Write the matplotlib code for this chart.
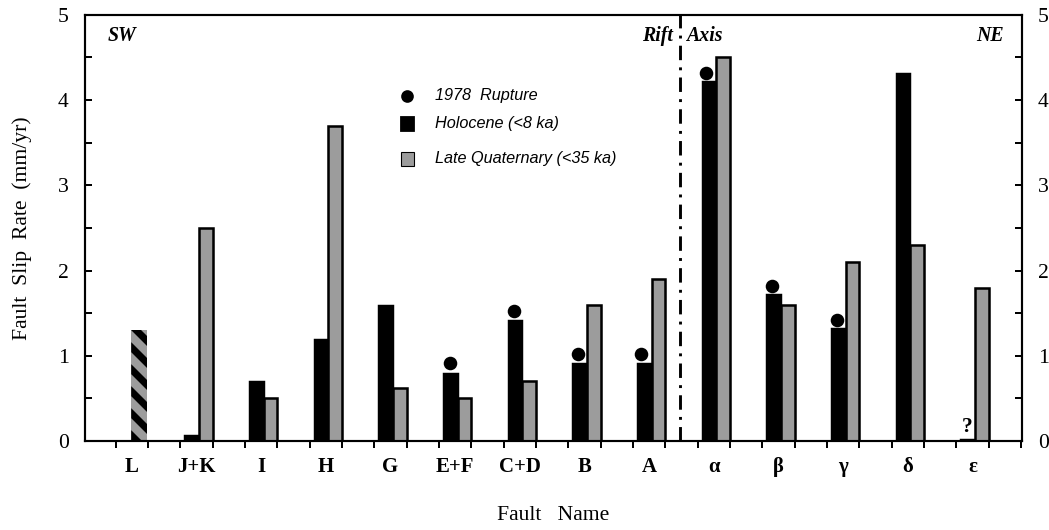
import matplotlib
matplotlib.use("Agg")
import matplotlib.pyplot as plt
from matplotlib.ticker import MultipleLocator, FixedLocator

categories = ["L", "J+K", "I", "H", "G", "E+F", "C+D", "B", "A", "α", "β", "γ", "δ", "ε"]
holocene = [None, 0.07, 0.7, 1.2, 1.6, 0.8, 1.42, 0.92, 0.92, 4.22, 1.72, 1.32, 4.32, 0.02]
late_quat = [None, 2.5, 0.5, 3.7, 0.62, 0.5, 0.7, 1.6, 1.9, 4.5, 1.6, 2.1, 2.3, 1.8]
l_fault = 1.3
rupture_1978 = [None, None, None, None, None, 0.92, 1.53, 1.02, 1.02, 4.32, 1.82, 1.42, None, None]
rupture_dx = [0, 0, 0, 0, 0, -0.1, -0.12, -0.13, -0.15, -0.14, -0.12, -0.12, 0, 0]

DPI = 130
fig = plt.figure(figsize=(1049 / DPI, 530 / DPI), dpi=DPI)
ax = fig.add_axes([0.081, 0.168, 0.893, 0.804])
XLIM = (-0.765, 13.72)
YLIM = (0, 5)
ax.set_xlim(*XLIM)
ax.set_ylim(*YLIM)

x = list(range(len(categories)))
wb, wg = 0.23, 0.21
gray = "#9c9c9c"

hb_x = [i for i in x if holocene[i] is not None]
ax.bar([i - wb for i in hb_x], [holocene[i] for i in hb_x], width=wb, align="edge",
       color="black", edgecolor="black", linewidth=0.8, zorder=2)
lq_x = [i for i in x if late_quat[i] is not None]
ax.bar(lq_x, [late_quat[i] for i in lq_x], width=wg, align="edge",
       color=gray, edgecolor="black", linewidth=1.4, zorder=2)

# L fault: bar with diagonal black stripes
lbar = ax.bar([-0.05], [l_fault], width=0.25, align="edge", facecolor=gray,
              edgecolor="none", linewidth=0, zorder=2)[0]
bbox = ax.get_position()
px_x = (XLIM[1] - XLIM[0]) / (bbox.width * 1049)   # data units per pixel
px_y = (YLIM[1] - YLIM[0]) / (bbox.height * 530)
period, thick = 22, 10  # pixels
bx0 = lbar.get_x()
bx1 = bx0 + lbar.get_width()
wpx = lbar.get_width() / px_x
y_start = l_fault + 10 * px_y
k = 0
while y_start - k * period * px_y > -2 * wpx * px_y:
    yt = y_start - k * period * px_y
    poly = plt.Polygon([(bx0, yt), (bx1, yt - wpx * px_y),
                        (bx1, yt - (wpx + thick) * px_y), (bx0, yt - thick * px_y)],
                       closed=True, facecolor="black", edgecolor="none", zorder=2.5)
    ax.add_patch(poly)
    poly.set_clip_path(lbar)
    k += 1

# 1978 rupture dots
for i in x:
    if rupture_1978[i] is not None:
        ax.plot(i - wb / 2 + rupture_dx[i] + 0.1, rupture_1978[i], "o", color="black",
                markersize=6.5, zorder=3, clip_on=False)

ax.text(12.88, 0.05, "?", fontsize=12, fontweight="bold", family="Liberation Serif",
        ha="center", va="bottom")

# Rift axis
ax.axvline(8.43, color="black", linewidth=1.6, linestyle=(0, (5, 2.5, 1, 2.5)), zorder=1)
tkw = dict(fontsize=11, fontweight="bold", fontstyle="italic",
           family="Liberation Serif", va="center")
ax.text(8.33, 4.75, "Rift", ha="right", **tkw)
ax.text(8.53, 4.75, "Axis", ha="left", **tkw)
ax.text(-0.42, 4.75, "SW", ha="left", **tkw)
ax.text(13.45, 4.75, "NE", ha="right", **tkw)

# Legend (manual)
lx = 4.22
lkw = dict(fontsize=9, fontstyle="italic", family="Liberation Sans", ha="left", va="center")
ax.plot(lx, 4.05, "o", color="black", markersize=6)
ax.text(lx + 0.42, 4.05, "1978  Rupture", **lkw)
ax.add_patch(plt.Rectangle((lx - 0.1, 3.64), 0.2, 0.16, color="black"))
ax.text(lx + 0.42, 3.72, "Holocene (<8 ka)", **lkw)
ax.add_patch(plt.Rectangle((lx - 0.1, 3.23), 0.2, 0.16, facecolor=gray,
                           edgecolor="black", linewidth=0.6))
ax.text(lx + 0.42, 3.31, "Late Quaternary (<35 ka)", **lkw)

# Axes styling
for s in ax.spines.values():
    s.set_linewidth(1.2)
ax.yaxis.set_major_locator(MultipleLocator(1))
ax.yaxis.set_minor_locator(MultipleLocator(0.5))
ax.tick_params(axis="y", which="both", direction="in", left=True, right=True,
               labelleft=True, labelright=True, length=4, width=1.1)
ax.tick_params(axis="y", which="major", labelsize=12, pad=9)
ticks_x = [-0.29 + 0.5 * k for k in range(29)]
ax.xaxis.set_major_locator(FixedLocator([i - 0.04 for i in x]))
ax.xaxis.set_minor_locator(FixedLocator(ticks_x))
ax.tick_params(axis="x", which="major", length=0, labelsize=11.5, pad=9)
ax.tick_params(axis="x", which="minor", direction="out", length=4, width=1.1)
ax.set_xticklabels(categories)
for lab in ax.get_xticklabels():
    lab.set_family("Liberation Serif")
    lab.set_fontweight("bold")
for lab in ax.yaxis.get_ticklabels():
    lab.set_family("Liberation Serif")

ax.set_ylabel("Fault  Slip  Rate  (mm/yr)", fontsize=12, family="Liberation Serif",
              labelpad=14)
ax.set_xlabel("Fault   Name", fontsize=12, family="Liberation Serif", labelpad=16)

fig.savefig("out.png", dpi=DPI)
